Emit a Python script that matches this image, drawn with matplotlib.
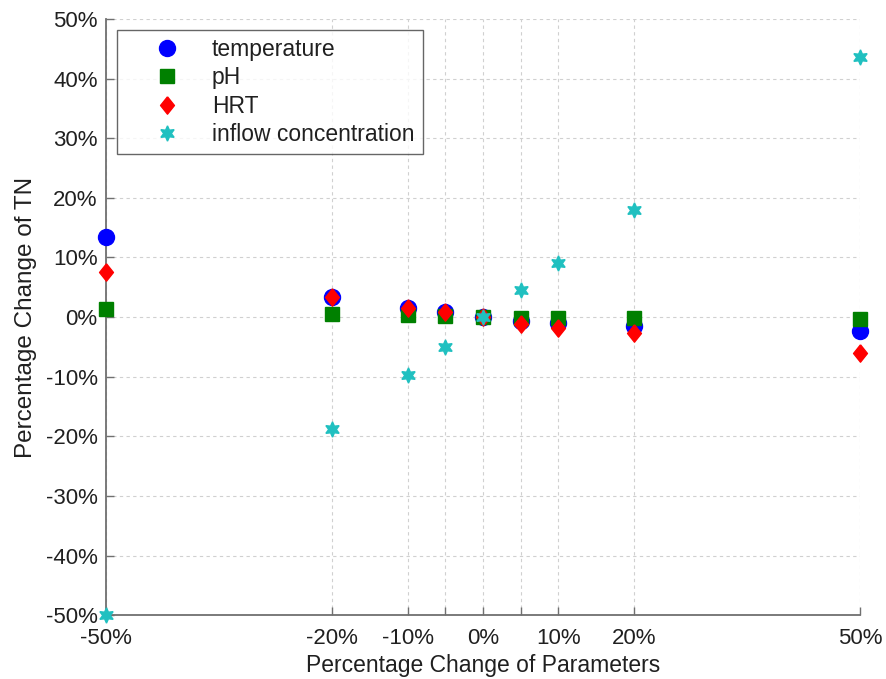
import matplotlib.pyplot as plt
from matplotlib.ticker import FuncFormatter

plt.rcParams['font.family'] = ['Liberation Sans', 'DejaVu Sans']

# percentage change of each parameter
x_change = [-50, -20, -10, -5, 0, 5, 10, 20, 50]

# resulting percentage change of TN
temperature = [13.4, 3.4, 1.6, 0.9, 0.0, -0.6, -1.0, -1.5, -2.3]
ph = [1.4, 0.5, 0.3, 0.2, 0.0, -0.1, -0.1, -0.2, -0.3]
hrt = [7.5, 3.3, 1.5, 0.8, 0.0, -1.2, -1.9, -2.6, -6.0]
inflow = [-50.0, -18.8, -9.7, -5.1, 0.0, 4.6, 9.1, 17.9, 43.6]

x_ticks = [-50, -20, -10, -5, 0, 5, 10, 20, 50]
x_labels = ['-50%', '-20%', '-10%', '', '0%', '', '10%', '20%', '50%']
y_ticks = list(range(-50, 51, 10))

# slightly narrow diamond, like the MATLAB 'd' marker
diamond = [(0, 1), (0.8, 0), (0, -1), (-0.8, 0), (0, 1)]

fig = plt.figure(figsize=(8.87, 6.79), dpi=100)
ax = fig.add_axes([0.1195, 0.094, 0.85, 0.878])

ax.plot(x_change, temperature, 'o', color='#0000ff', markersize=11.5,
        label='temperature', clip_on=False, zorder=3)
ax.plot(x_change, ph, 's', color='#008000', markersize=9.5,
        label='pH', clip_on=False, zorder=3)
ax.plot(x_change, hrt, marker=diamond, linestyle='none', color='#ff0000',
        markersize=12.5, label='HRT', clip_on=False, zorder=4)
ax.plot(x_change, inflow, marker=(6, 1, 0), linestyle='none', color='#20c0c0',
        markersize=11, label='inflow concentration', clip_on=False, zorder=5)

ax.set_xlim(-50, 50)
ax.set_ylim(-50, 50)
ax.set_xticks(x_ticks)
ax.set_xticklabels(x_labels)
ax.set_yticks(y_ticks)
ax.yaxis.set_major_formatter(FuncFormatter(lambda v, p: '%d%%' % v))

ax.grid(True, color='#d0d0d0', linestyle=(0, (3, 3)), linewidth=0.8)
ax.set_axisbelow(True)

for side in ['top', 'right']:
    ax.spines[side].set_visible(False)
for side in ['left', 'bottom']:
    ax.spines[side].set_color('#707070')
    ax.spines[side].set_linewidth(1.3)

ax.tick_params(direction='in', length=6, width=1, color='#707070',
               labelsize=16, labelcolor='#202020')
ax.tick_params(axis='x', pad=9)
ax.tick_params(axis='y', pad=6)

ax.set_xlabel('Percentage Change of Parameters', fontsize=16.5, color='#202020', labelpad=4)
ax.set_ylabel('Percentage Change of TN', fontsize=17.5, color='#202020', labelpad=6)

leg = ax.legend(loc='upper left', bbox_to_anchor=(0.014, 0.982), borderaxespad=0,
                fontsize=16.5, frameon=True, fancybox=False, edgecolor='#404040',
                handletextpad=0.17, borderpad=0.38, labelspacing=0.22,
                handlelength=3.6, numpoints=1)
leg.get_frame().set_linewidth(1.0)
for text in leg.get_texts():
    text.set_color('#202020')

fig.savefig('out.png', dpi=100)
